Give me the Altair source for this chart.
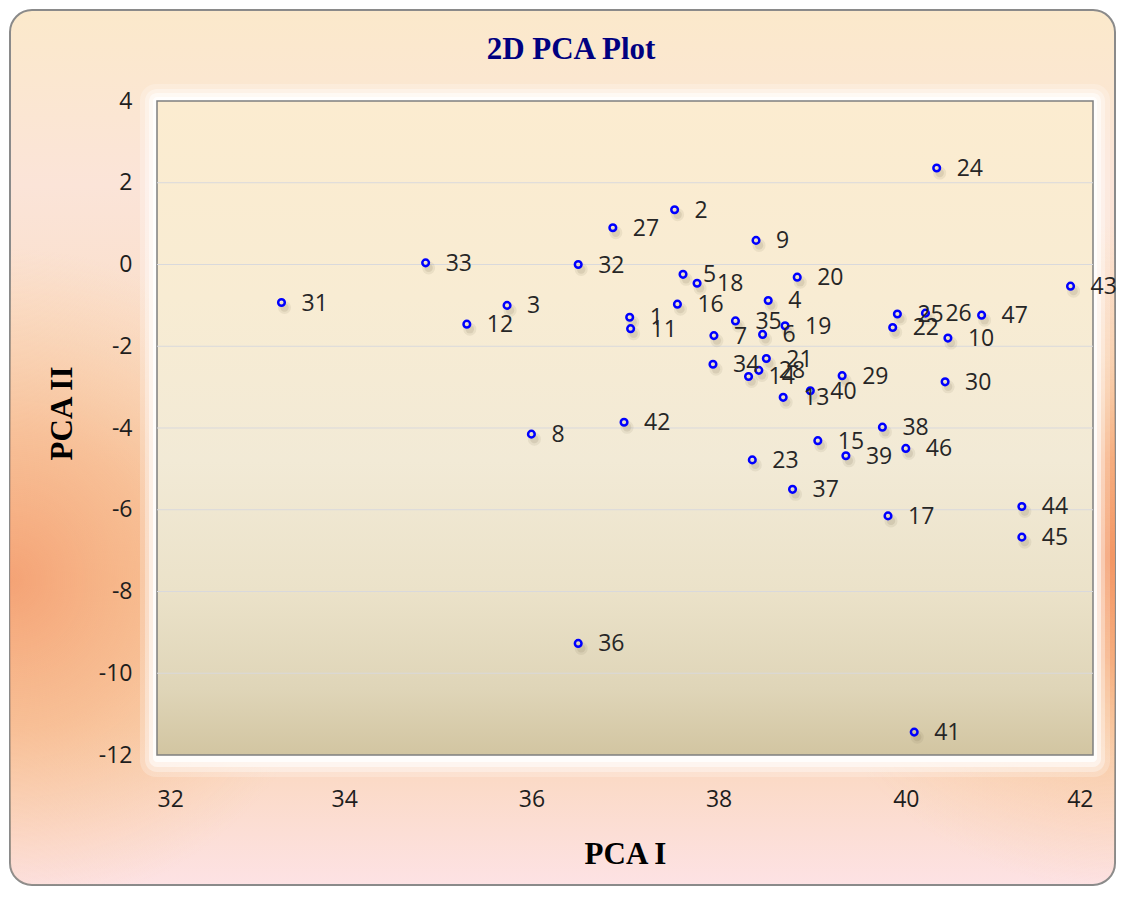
import altair as alt
import pandas as pd

# ---- data ----
IDS = ["1", "2", "3", "4", "5", "6", "7", "8", "9", "10",
       "11", "12", "13", "14", "15", "16", "17", "18", "19", "20",
       "21", "22", "23", "24", "25", "26", "27", "28", "29", "30",
       "31", "32", "33", "34", "35", "36", "37", "38", "39", "40",
       "41", "42", "43", "44", "45", "46", "47"]
PCA1 = [37.05, 37.53, 35.74, 38.53, 37.62, 38.47, 37.95, 36.00, 38.40, 40.45,
        37.06, 35.31, 38.69, 38.32, 39.06, 37.56, 39.81, 37.77, 38.71, 38.84,
        38.51, 39.86, 38.36, 40.33, 39.91, 40.21, 36.87, 38.43, 39.32, 40.42,
        33.33, 36.50, 34.87, 37.94, 38.18, 36.50, 38.79, 39.75, 39.36, 38.98,
        40.09, 36.99, 41.76, 41.24, 41.24, 40.00, 40.81]
PCA2 = [-1.29, 1.34, -1.00, -0.88, -0.24, -1.71, -1.74, -4.15, 0.59, -1.80,
        -1.57, -1.46, -3.25, -2.74, -4.31, -0.97, -6.15, -0.46, -1.50, -0.31,
        -2.30, -1.54, -4.78, 2.36, -1.21, -1.19, 0.90, -2.59, -2.72, -2.87,
        -0.93, 0.00, 0.04, -2.44, -1.38, -9.27, -5.50, -3.98, -4.68, -3.09,
        -11.44, -3.86, -0.53, -5.92, -6.67, -4.50, -1.24]
X_TICKS = [32, 34, 36, 38, 40, 42]
Y_TICKS = [4, 2, 0, -2, -4, -6, -8, -10, -12]
GRID_Y = [2, 0, -2, -4, -6, -8, -10]

TITLE = "2D PCA Plot"
X_TITLE = "PCA I"
Y_TITLE = "PCA II"

df = pd.DataFrame({"id": IDS, "pc1": PCA1, "pc2": PCA2})
grid_df = pd.DataFrame({"pc2": GRID_Y})
one = pd.DataFrame({"k": [0]})
title_df = pd.DataFrame({"t": [TITLE]})

W, H = 936, 654
XS = alt.Scale(domain=[32, 42], nice=False, zero=False)
YS = alt.Scale(domain=[-12, 4], nice=False, zero=False)

AXIS_STYLE = dict(
    grid=False, ticks=False, tickSize=0, domain=False,
    labelExpr="'' + datum.value",
    labelFont="Open Sans", labelFontSize=23, labelColor="#1e1e1e",
    titleFont="Liberation Serif", titleFontSize=31, titleFontWeight="bold",
    titleColor="#000000", zindex=2,
)
X_AXIS = alt.Axis(values=X_TICKS, title=X_TITLE, labelPadding=33, titlePadding=28,
                  **AXIS_STYLE)
Y_AXIS = alt.Axis(values=Y_TICKS, title=Y_TITLE, labelPadding=25, titlePadding=20,
                  titleY=312, **AXIS_STYLE)


def box(x, x2, y, y2, **mark):
    return alt.Chart(one).mark_rect(**mark).encode(
        x=alt.value(x), x2=alt.value(x2), y=alt.value(y), y2=alt.value(y2)
    )


def stop(c, o):
    return alt.GradientStop(color=c, offset=o)


# outer chart area
OX1, OX2, OY1, OY2 = -147, 958, -91, 784
outer_base = box(
    OX1, OX2, OY1, OY2, cornerRadius=22, stroke="#8a8a8a", strokeWidth=2,
    fill=alt.LinearGradient(
        gradient="linear", x1=0, y1=0, x2=0, y2=1,
        stops=[stop("#fbe9cb", 0), stop("#fbe4d8", 0.2), stop("#fadcc4", 0.45),
               stop("#f9cfa8", 0.65), stop("#fad6b8", 0.82), stop("#fde2e4", 1)],
    ),
)
outer_left = box(
    OX1, OX2, OY1, OY2, cornerRadius=22,
    fill=alt.RadialGradient(
        gradient="radial", x1=0, y1=0.62, r1=0, x2=0, y2=0.62, r2=0.3,
        stops=[stop("rgba(244,158,112,0.9)", 0), stop("rgba(246,176,128,0.6)", 0.45),
               stop("rgba(248,200,150,0)", 1)],
    ),
)
outer_right = box(
    OX1, OX2, OY1, OY2, cornerRadius=22,
    fill=alt.RadialGradient(
        gradient="radial", x1=1, y1=0.6, r1=0, x2=1, y2=0.6, r2=0.3,
        stops=[stop("rgba(243,150,100,1)", 0), stop("rgba(245,165,115,0.85)", 0.3),
               stop("rgba(247,190,140,0.4)", 0.6), stop("rgba(248,200,150,0)", 1)],
    ),
)

# white glow around the plot area
halo = [
    box(-17, W + 17, -17, H + 22, cornerRadius=16, fill="white", opacity=0.22),
    box(-12, W + 12, -12, H + 17, cornerRadius=12, fill="white", opacity=0.35),
    box(-8, W + 8, -8, H + 12, cornerRadius=8, fill="white", opacity=0.5),
    box(-4, W + 4, -4, H + 7, cornerRadius=4, fill="white", opacity=0.8),
]

plot_bg = box(
    0, W, 0, H, stroke="#7f7f7f", strokeWidth=1.5,
    fill=alt.LinearGradient(
        gradient="linear", x1=0, y1=0, x2=0, y2=1,
        stops=[stop("#fcecd0", 0), stop("#f8ecd3", 0.3), stop("#f2ead6", 0.55),
               stop("#ebe2c9", 0.75), stop("#dfd5b8", 0.9), stop("#d2c5a1", 1)],
    ),
)

grid = alt.Chart(grid_df).mark_rule(color="#d9d9dc", strokeWidth=1).encode(
    y=alt.Y("pc2:Q", scale=YS, axis=Y_AXIS),
    x=alt.value(0),
    x2=alt.value(W),
)

title = alt.Chart(title_df).mark_text(
    font="Liberation Serif", fontSize=31, fontWeight="bold", color="#000080",
    align="center", baseline="alphabetic",
).encode(text="t:N", x=alt.value(414), y=alt.value(-42))

shadow1 = alt.Chart(df).mark_circle(
    color="#7a6a50", opacity=0.10, size=170, xOffset=3, yOffset=5
).encode(x=alt.X("pc1:Q", scale=XS, axis=X_AXIS), y=alt.Y("pc2:Q", scale=YS, axis=Y_AXIS))
shadow2 = alt.Chart(df).mark_circle(
    color="#7a6a50", opacity=0.14, size=70, xOffset=3, yOffset=5
).encode(x=alt.X("pc1:Q", scale=XS, axis=X_AXIS), y=alt.Y("pc2:Q", scale=YS, axis=Y_AXIS))

points = alt.Chart(df).mark_point(
    shape="circle", filled=False, color="#0000ff", size=44, strokeWidth=2.5, opacity=1
).encode(
    x=alt.X("pc1:Q", scale=XS, axis=X_AXIS),
    y=alt.Y("pc2:Q", scale=YS, axis=Y_AXIS),
)

labels = alt.Chart(df).mark_text(
    align="left", baseline="middle", dx=20, dy=1, fontSize=23, font="Open Sans",
    color="#262626",
).encode(
    x=alt.X("pc1:Q", scale=XS, axis=X_AXIS),
    y=alt.Y("pc2:Q", scale=YS, axis=Y_AXIS),
    text="id:N",
)

chart = alt.layer(
    outer_base, outer_left, outer_right, *halo, plot_bg, grid, title,
    shadow1, shadow2, points, labels,
).properties(
    width=W,
    height=H,
    padding={"left": 149, "top": 93, "right": 25, "bottom": 134},
    autosize=alt.AutoSizeParams(type="none"),
).configure_view(stroke=None).configure(background="white")

chart.save("out.html", embed_options={"renderer": "svg", "actions": False})
